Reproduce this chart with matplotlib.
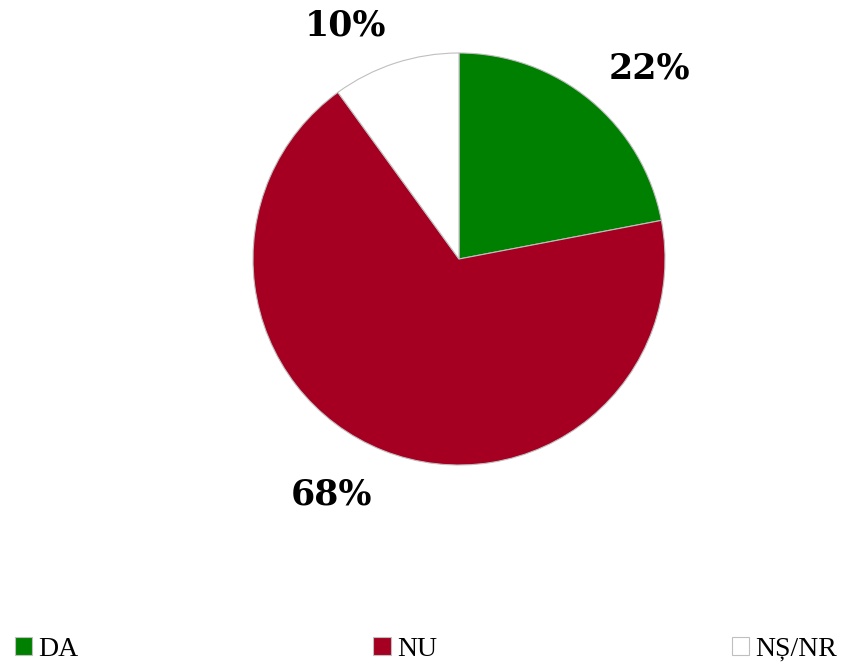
import numpy as np
import matplotlib
matplotlib.use("Agg")
import matplotlib.pyplot as plt

# survey answers, share of respondents (%)
categories = ["DA", "NU", "NȘ/NR"]
shares = [22, 68, 10]
slice_colors = ["#008000", "#a50021", "#ffffff"]

W, H = 855, 664
fig = plt.figure(figsize=(W / 100, H / 100), dpi=100)
fig.patch.set_facecolor("white")

# pie area: center (459, 259) px, radius 206 px
cx, cy, r = 459, 259, 206
ax = fig.add_axes([(cx - r) / W, (H - cy - r) / H, 2 * r / W, 2 * r / H])
wedges, _ = ax.pie(
    shares, colors=slice_colors, startangle=90, counterclock=False,
    radius=1.0, wedgeprops=dict(edgecolor="#bfbfbf", linewidth=0.8),
)
ax.set_xlim(-1, 1)
ax.set_ylim(-1, 1)
ax.set_aspect("equal")
ax.axis("off")

# outside-end labels, anchored on the side facing away from the pie
for w, v in zip(wedges, shares):
    ang = np.deg2rad((w.theta1 + w.theta2) / 2)
    x, y = 1.14 * np.cos(ang), 1.14 * np.sin(ang)
    ax.text(x, y, f"{v}%", ha="left" if x > 0 else "right",
            va="baseline" if y > 0 else "top",
            fontsize=25, fontweight="bold", family="DejaVu Serif",
            color="black", clip_on=False)

leg = fig.legend(
    wedges, categories, loc="lower left", ncol=3, mode="expand",
    bbox_to_anchor=(15 / W, 2 / H, 822 / W, 30 / H), frameon=False,
    borderpad=0.0, borderaxespad=0.0,
    handlelength=0.62, handleheight=0.62, handletextpad=0.22,
    prop=dict(family="Liberation Serif", size=20),
)

fig.savefig("out.png", dpi=100, facecolor="white")
